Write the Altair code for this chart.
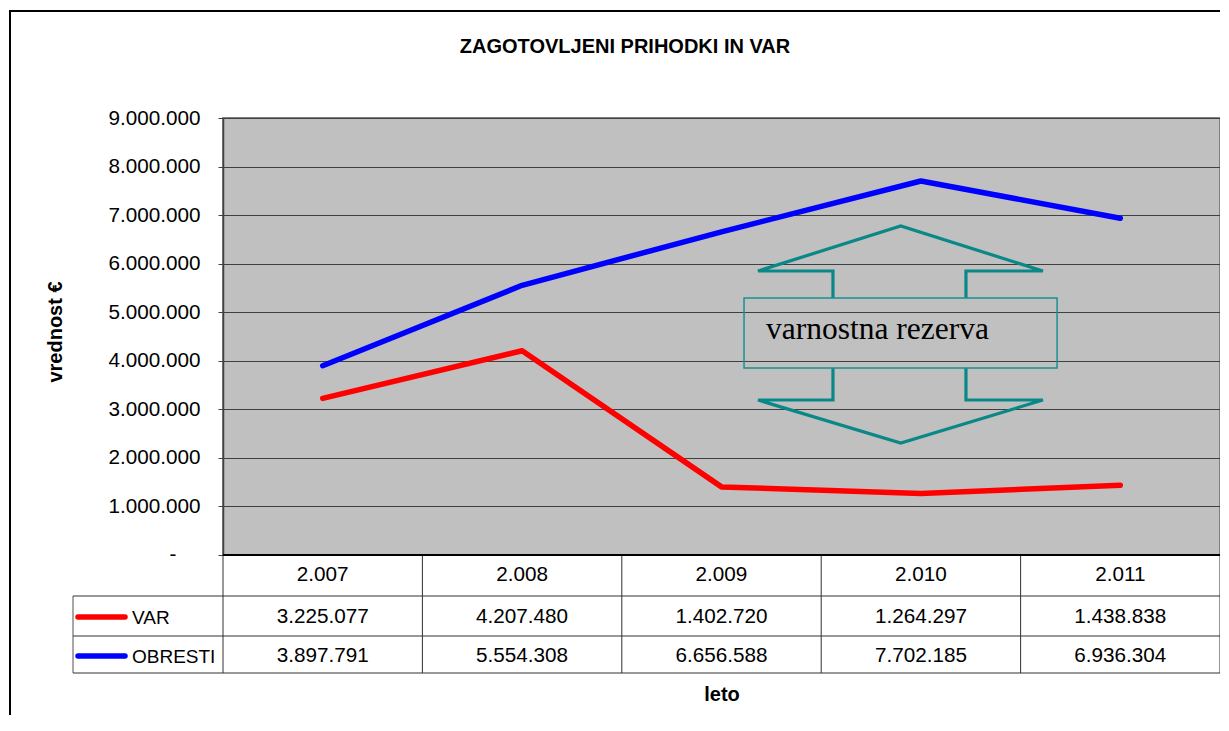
import altair as alt
import pandas as pd

# ---------------- data ----------------
title_text = "ZAGOTOVLJENI PRIHODKI IN VAR"
y_title = "vrednost €"
x_title = "leto"
years = ["2.007", "2.008", "2.009", "2.010", "2.011"]
series_names = ["VAR", "OBRESTI"]
var_values = [3225077, 4207480, 1402720, 1264297, 1438838]
obresti_values = [3897791, 5554308, 6656588, 7702185, 6936304]
series_colors = ["#FF0000", "#0000FF"]
y_ticks = [0, 1000000, 2000000, 3000000, 4000000, 5000000, 6000000, 7000000, 8000000, 9000000]
zero_label = "-"
annotation_text = "varnostna rezerva"

# annotation (double arrow + box) outline, in data units (x: category space 0..5, y: value)
arrow_up_x = [3.059, 3.059, 2.683, 3.399, 4.112, 3.726, 3.726]
arrow_up_y = [5293000, 5849000, 5849000, 6776000, 5849000, 5849000, 5293000]
arrow_dn_x = [3.059, 3.059, 2.683, 3.399, 4.112, 3.726, 3.726]
arrow_dn_y = [3851000, 3192000, 3192000, 2307000, 3192000, 3192000, 3851000]
box_x = [2.613, 4.183]
box_y = [3851000, 5293000]
label_pos = [2.723, 4449000]

# ---------------- layout ----------------
W, H = 997, 437
FONT = "Liberation Sans"
FS = 20.7
TEAL = "#0a8888"

n = len(years)
centers = [i + 0.5 for i in range(n)]

rows = []
for name, vals in zip(series_names, [var_values, obresti_values]):
    for i, v in enumerate(vals):
        rows.append({"series": name, "x": centers[i], "v": v,
                     "txt": f"{v:,}".replace(",", ".")})
df = pd.DataFrame(rows)

df_years = pd.DataFrame({"x": centers, "label": years})
df_bounds = pd.DataFrame({"x": list(range(n + 1))})

arr_rows = []
for part, xs, ys in [("up", arrow_up_x, arrow_up_y), ("dn", arrow_dn_x, arrow_dn_y)]:
    for k, (xx, yy) in enumerate(zip(xs, ys)):
        arr_rows.append({"part": part, "o": k, "x": xx, "v": yy})
df_arrow = pd.DataFrame(arr_rows)
df_box = pd.DataFrame({"x": [box_x[0]], "x2": [box_x[1]], "v": [box_y[0]], "v2": [box_y[1]]})
df_label = pd.DataFrame({"x": [label_pos[0]], "v": [label_pos[1]], "t": [annotation_text]})
df_zero = pd.DataFrame({"v": [y_ticks[0]], "t": [zero_label]})

x_enc = alt.X("x:Q", scale=alt.Scale(domain=[0, n], nice=False, zero=False), axis=None)
label_expr = ("datum.value == 0 ? '' : "
              "replace(format(datum.value, ','), regexp(',', 'g'), '.')")
y_enc = alt.Y("v:Q", scale=alt.Scale(domain=[0, 9000000], nice=False),
              axis=alt.Axis(values=y_ticks, title=None, labelExpr=label_expr,
                            grid=True, gridColor="#404040", gridWidth=1,
                            domainColor="#404040", domainWidth=1.5,
                            tickColor="#404040", tickSize=5, tickWidth=1,
                            labelFont=FONT, labelFontSize=FS, labelColor="#000000",
                            labelPadding=18))

base = alt.Chart(df)

lines = base.mark_line(strokeWidth=5.5, strokeCap="round", strokeJoin="round").encode(
    x=x_enc, y=y_enc,
    color=alt.Color("series:N", scale=alt.Scale(domain=series_names, range=series_colors), legend=None),
    detail="series:N",
)

arrows = alt.Chart(df_arrow).mark_line(color=TEAL, strokeWidth=3.2, strokeJoin="miter").encode(
    x=x_enc, y=y_enc, detail="part:N", order="o:Q")

box = alt.Chart(df_box).mark_rect(fill="transparent", stroke="#1a9090", strokeWidth=1.5).encode(
    x=x_enc, x2="x2:Q", y=y_enc, y2="v2:Q")

ann_text = alt.Chart(df_label).mark_text(align="left", baseline="alphabetic",
                                          font="Liberation Serif", fontSize=31.5,
                                          color="#000000").encode(
    x=x_enc, y=y_enc, text="t:N")

zero_txt = alt.Chart(df_zero).mark_text(font=FONT, fontSize=FS, color="#000000",
                                         baseline="middle").encode(
    x=alt.value(-50), y=y_enc, text="t:N")

# table header (years)
hdr = alt.Chart(df_years).mark_text(font=FONT, fontSize=FS, color="#000000",
                                     baseline="alphabetic").encode(
    x=x_enc, y=alt.value(463), text="label:N")

row_y = {"VAR": 505, "OBRESTI": 544}
key_y = {"VAR": 499, "OBRESTI": 538}
cells = []
keys = []
for name, col in zip(series_names, series_colors):
    cells.append(base.transform_filter(alt.datum.series == name).mark_text(
        font=FONT, fontSize=FS, color="#000000", baseline="alphabetic").encode(
        x=x_enc, y=alt.value(row_y[name]), text="txt:N"))
    keys.append(alt.Chart(pd.DataFrame({"s": [name]})).mark_rule(
        color=col, strokeWidth=5.5, strokeCap="round").encode(
        x=alt.value(-145), x2=alt.value(-98), y=alt.value(key_y[name])))
    keys.append(alt.Chart(pd.DataFrame({"s": [name]})).mark_text(
        font=FONT, fontSize=19, color="#000000", align="left", baseline="alphabetic").encode(
        x=alt.value(-91), y=alt.value(row_y[name] + 1), text="s:N"))

# table grid
vlines = alt.Chart(df_bounds).mark_rule(color="#303030", strokeWidth=1).encode(
    x=x_enc, y=alt.value(437), y2=alt.value(555))
dummy = pd.DataFrame({"a": [0]})
hl = []
for yy in [478, 518, 555]:
    hl.append(alt.Chart(dummy).mark_rule(color="#303030", strokeWidth=1).encode(
        x=alt.value(-150), x2=alt.value(W), y=alt.value(yy)))
left_v = alt.Chart(dummy).mark_rule(color="#505050", strokeWidth=1).encode(
    x=alt.value(-150), y=alt.value(478), y2=alt.value(555))
axis_bottom = alt.Chart(dummy).mark_rule(color="#000000", strokeWidth=2).encode(
    x=alt.value(0), x2=alt.value(W), y=alt.value(H))

# outer frame (top and left)
frame_top = alt.Chart(dummy).mark_rule(color="#000000", strokeWidth=2).encode(
    x=alt.value(-214), x2=alt.value(W + 5), y=alt.value(-107))
frame_left = alt.Chart(dummy).mark_rule(color="#000000", strokeWidth=2).encode(
    x=alt.value(-213), y=alt.value(-108), y2=alt.value(720))

# titles
t_main = alt.Chart(pd.DataFrame({"t": [title_text]})).mark_text(
    font=FONT, fontSize=20, fontWeight="bold", color="#000000", baseline="alphabetic").encode(
    x=alt.value(402), y=alt.value(-65), text="t:N")
t_y = alt.Chart(pd.DataFrame({"t": [y_title]})).mark_text(
    font=FONT, fontSize=20, fontWeight="bold", color="#000000", angle=270,
    baseline="alphabetic").encode(
    x=alt.value(-161), y=alt.value(214), text="t:N")
t_x = alt.Chart(pd.DataFrame({"t": [x_title]})).mark_text(
    font=FONT, fontSize=20, fontWeight="bold", color="#000000", baseline="alphabetic").encode(
    x=alt.value(499), y=alt.value(583), text="t:N")

chart = alt.layer(
    arrows, box, ann_text, lines, zero_txt,
    vlines, *hl, left_v, axis_bottom,
    hdr, *cells, *keys,
    frame_top, frame_left, t_main, t_y, t_x,
).properties(
    width=W, height=H,
    autosize=alt.AutoSizeParams(type="none"),
    padding={"left": 215, "top": 110, "right": 0, "bottom": 160},
    background="#FFFFFF",
).configure_view(
    fill="#C0C0C0", stroke="#808080", strokeWidth=2,
)

chart.save("out.html", embed_options={"renderer": "svg", "actions": False})
